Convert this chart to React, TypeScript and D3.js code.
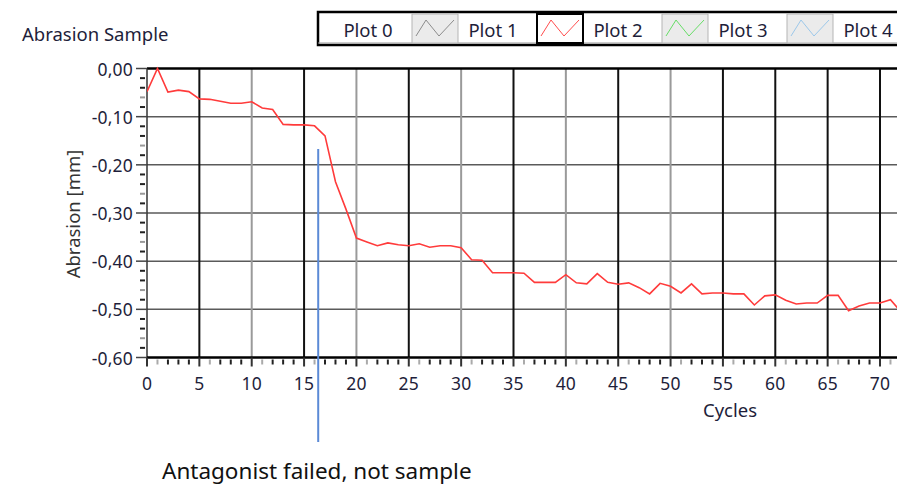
import React, { useEffect, useRef } from 'react';
import * as d3 from 'd3';

// abrasion sample readings, one per cycle
const cycles = [
  0, 1, 2, 3, 4, 5, 6, 7, 8, 9, 10, 11, 12, 13, 14, 15, 16, 17, 18, 19, 20, 21, 22, 23, 24,
  25, 26, 27, 28, 29, 30, 31, 32, 33, 34, 35, 36, 37, 38, 39, 40, 41, 42, 43, 44, 45, 46, 47, 48,
  49, 50, 51, 52, 53, 54, 55, 56, 57, 58, 59, 60, 61, 62, 63, 64, 65, 66, 67, 68, 69, 70, 71, 72,
];
const abrasion = [
  -0.048, 0.0, -0.049, -0.045, -0.048, -0.063, -0.064, -0.068, -0.072, -0.072, -0.069, -0.082,
  -0.085, -0.116, -0.117, -0.117, -0.119, -0.14, -0.235, -0.292, -0.352, -0.36, -0.368, -0.362,
  -0.366, -0.368, -0.364, -0.371, -0.368, -0.368, -0.372, -0.397, -0.398, -0.424, -0.424, -0.424,
  -0.425, -0.444, -0.444, -0.444, -0.428, -0.445, -0.447, -0.426, -0.444, -0.448, -0.445, -0.455,
  -0.468, -0.446, -0.452, -0.466, -0.447, -0.468, -0.466, -0.466, -0.468, -0.468, -0.491, -0.472,
  -0.47, -0.481, -0.489, -0.487, -0.487, -0.471, -0.471, -0.503, -0.493, -0.487, -0.487, -0.48,
  -0.505,
];

const xTicks = [0, 5, 10, 15, 20, 25, 30, 35, 40, 45, 50, 55, 60, 65, 70];
const yTicks = [0, -0.1, -0.2, -0.3, -0.4, -0.5, -0.6];
const legendNames = ['Plot 0', 'Plot 1', 'Plot 2', 'Plot 3', 'Plot 4'];
const legendColors = ['#8c8c8c', '#ff4d4d', '#66dd66', '#9cc8ea', '#c080c0'];
const failedAt = 16.35;
const note = 'Antagonist failed, not sample';

const FONT = '"Noto Sans", "Open Sans", sans-serif';
const INK = '#1e1e3a';

const App = () => {
  const svgRef = useRef(null);

  useEffect(() => {
    const W = 897;
    const H = 485;
    const left = 147, right = 897, top = 68.5, bottom = 357.5;

    const x = d3.scaleLinear().domain([0, 70]).range([left, 880]);
    const y = d3.scaleLinear().domain([-0.6, 0]).range([bottom, top]);

    const svg = d3.select(svgRef.current).attr('width', W).attr('height', H);
    svg.selectAll('*').remove();

    svg.append('rect').attr('width', W).attr('height', H).attr('fill', '#fff');

    svg.append('defs').append('clipPath').attr('id', 'plotclip')
      .append('rect').attr('x', left).attr('y', top - 2).attr('width', right - left).attr('height', bottom - top + 4);

    // title
    svg.append('text').attr('x', 22).attr('y', 41).attr('font-family', FONT).attr('font-size', 18.5)
      .attr('fill', INK).text('Abrasion Sample');

    // legend
    const lg = svg.append('g');
    lg.append('rect').attr('x', 318).attr('y', 12).attr('width', 620).attr('height', 33)
      .attr('fill', '#fff').attr('stroke', '#000').attr('stroke-width', 2.5);
    lg.append('line').attr('x1', 318).attr('x2', 897).attr('y1', 43).attr('y2', 43)
      .attr('stroke', '#999').attr('stroke-width', 1);
    legendNames.forEach((name, i) => {
      const cx = 368 + 125 * i;
      const sx = 412 + 125 * i;
      lg.append('text').attr('x', cx).attr('y', 29).attr('text-anchor', 'middle')
        .attr('dominant-baseline', 'central').attr('font-family', FONT).attr('font-size', 18.5)
        .attr('fill', INK).text(name);
      if (sx > W) return;
      const selected = i === 1;
      lg.append('rect').attr('x', sx).attr('y', 14).attr('width', 46).attr('height', 29)
        .attr('fill', selected ? '#fff' : '#ebebeb')
        .attr('stroke', selected ? '#000' : '#b5b5b5').attr('stroke-width', selected ? 2 : 1);
      const zig = d3.line()([[sx + 4, 36], [sx + 14, 20], [sx + 27, 36], [sx + 42, 20]]);
      lg.append('path').attr('d', zig).attr('fill', 'none').attr('stroke', legendColors[i]).attr('stroke-width', 1);
    });

    // horizontal grid
    svg.append('g').selectAll('line').data(yTicks.filter(d => d !== 0 && d !== -0.6)).join('line')
      .attr('x1', left).attr('x2', right).attr('y1', d => y(d)).attr('y2', d => y(d))
      .attr('stroke', '#5a5a5a').attr('stroke-width', 1.5);

    // vertical grid
    svg.append('g').selectAll('line').data(xTicks.filter(d => d > 0)).join('line')
      .attr('x1', d => x(d)).attr('x2', d => x(d)).attr('y1', top).attr('y2', bottom)
      .attr('stroke', d => (d % 10 === 0 && d <= 50 ? '#9a9a9a' : '#111'))
      .attr('stroke-width', 2);

    // frame
    svg.append('line').attr('x1', left).attr('x2', right).attr('y1', top).attr('y2', top)
      .attr('stroke', '#000').attr('stroke-width', 2.5);
    svg.append('line').attr('x1', left).attr('x2', left).attr('y1', top).attr('y2', bottom)
      .attr('stroke', '#333').attr('stroke-width', 1.5);
    svg.append('line').attr('x1', left).attr('x2', right).attr('y1', bottom).attr('y2', bottom)
      .attr('stroke', '#000').attr('stroke-width', 2.5);

    // y axis ticks + labels
    const yMinor = d3.range(-0.6, 0.001, 0.02).filter(v => Math.abs(Math.round(v * 10) - v * 10) > 0.01);
    svg.append('g').selectAll('line').data(yMinor).join('line')
      .attr('x1', 140).attr('x2', 145).attr('y1', d => y(d)).attr('y2', d => y(d))
      .attr('stroke', (d, i) => (i % 4 === 1 ? '#999' : '#222')).attr('stroke-width', 2);
    svg.append('g').selectAll('line').data(yTicks).join('line')
      .attr('x1', 136).attr('x2', left).attr('y1', d => y(d)).attr('y2', d => y(d))
      .attr('stroke', '#444').attr('stroke-width', 1.5);
    svg.append('g').selectAll('text').data(yTicks).join('text')
      .attr('x', 133).attr('y', d => y(d)).attr('text-anchor', 'end').attr('dominant-baseline', 'central')
      .attr('font-family', FONT).attr('font-size', 17.5).attr('fill', INK).attr('letter-spacing', 0.2)
      .text(d => d3.format('.2f')(d).replace('.', ',').replace('−', '-'));

    // x axis ticks + labels
    const xMinor = d3.range(1, 72, 1).filter(v => v % 5 !== 0);
    svg.append('g').selectAll('line').data(xMinor).join('line')
      .attr('x1', d => x(d)).attr('x2', d => x(d)).attr('y1', bottom + 2).attr('y2', bottom + 7)
      .attr('stroke', (d) => (d % 5 === 1 ? '#aaa' : '#222')).attr('stroke-width', 2);
    svg.append('g').selectAll('line').data(xTicks).join('line')
      .attr('x1', d => x(d)).attr('x2', d => x(d)).attr('y1', bottom).attr('y2', bottom + 9)
      .attr('stroke', '#333').attr('stroke-width', 2);
    svg.append('g').selectAll('text').data(xTicks).join('text')
      .attr('x', d => x(d)).attr('y', 383).attr('text-anchor', 'middle').attr('dominant-baseline', 'central')
      .attr('font-family', FONT).attr('font-size', 17.5).attr('fill', INK).attr('letter-spacing', 0.2)
      .text(d => d);

    // axis titles
    svg.append('text').attr('x', 730).attr('y', 409).attr('text-anchor', 'middle').attr('dominant-baseline', 'central')
      .attr('font-family', FONT).attr('font-size', 18.5).attr('fill', INK).text('Cycles');
    svg.append('text').attr('transform', 'translate(72,214) rotate(-90)').attr('text-anchor', 'middle')
      .attr('dominant-baseline', 'central').attr('font-family', FONT).attr('font-size', 18.5)
      .attr('fill', '#333').text('Abrasion [mm]');

    // data line
    const series = cycles.map((c, i) => [c, abrasion[i]]);
    svg.append('path').datum(series).attr('clip-path', 'url(#plotclip)')
      .attr('d', d3.line().x(d => x(d[0])).y(d => y(d[1])))
      .attr('fill', 'none').attr('stroke', '#ff3b3b').attr('stroke-width', 1.6);

    // annotation
    svg.append('line').attr('x1', x(failedAt)).attr('x2', x(failedAt)).attr('y1', 149).attr('y2', 442)
      .attr('stroke', '#5b8ad6').attr('stroke-width', 2);
    svg.append('text').attr('x', 162).attr('y', 479).attr('font-family', FONT).attr('font-size', 22.5)
      .attr('fill', '#111').text(note);
  }, []);

  return (
    <div style={{ position: 'fixed', left: 0, top: 0, width: 897, height: 485, background: '#fff' }}>
      <svg ref={svgRef}></svg>
    </div>
  );
};

export default App;
